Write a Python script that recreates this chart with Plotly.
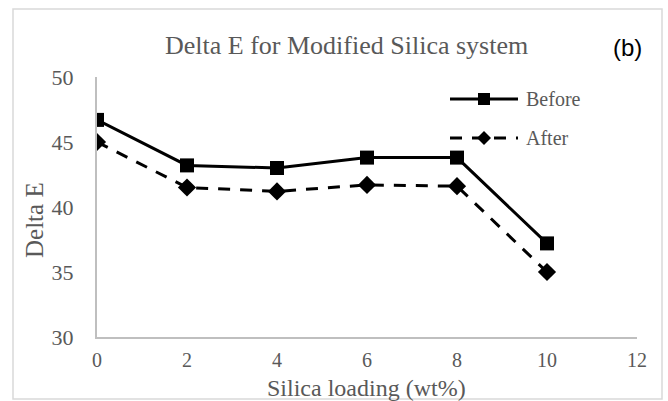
import plotly.graph_objects as go

# Silica loading (wt%) and Delta E readings before / after
loading = [0, 2, 4, 6, 8, 10]
before = [46.7, 43.2, 43.0, 43.8, 43.8, 37.2]
after = [45.0, 41.5, 41.2, 41.7, 41.6, 35.0]
series_names = ["Before", "After"]

GRAY_TXT = "#595959"
AXIS_GRAY = "#BFBFBF"
SERIF = "Liberation Serif, Times New Roman, serif"

fig = go.Figure()
fig.add_trace(go.Scatter(
    x=loading, y=before, name=series_names[0], mode="lines+markers",
    line=dict(color="black", width=3),
    marker=dict(symbol="square", size=14, color="black"),
    showlegend=False,
))
fig.add_trace(go.Scatter(
    x=loading, y=after, name=series_names[1], mode="lines+markers",
    line=dict(color="black", width=3, dash="12px,10px"),
    marker=dict(symbol="diamond", size=14, color="black"),
    showlegend=False,
))

W, H = 668, 401
L, R, T, B = 97, 31, 77, 64
pw, ph = W - L - R, H - T - B


def px(x):
    return (x - L) / pw


def py(y):
    return (H - B - y) / ph


shapes = [
    # outer chart border
    dict(type="rect", xref="paper", yref="paper",
         x0=px(13), x1=px(662), y0=py(399), y1=py(9),
         line=dict(color="#D9D9D9", width=1.5), layer="below"),
    # legend glyph: Before
    dict(type="line", xref="paper", yref="paper",
         x0=px(450), x1=px(518), y0=py(99), y1=py(99),
         line=dict(color="black", width=3)),
    dict(type="rect", xref="paper", yref="paper",
         x0=px(484 - 6), x1=px(484 + 6), y0=py(99 + 6), y1=py(99 - 6),
         line=dict(width=0), fillcolor="black"),
    # legend glyph: After
    dict(type="line", xref="paper", yref="paper",
         x0=px(450), x1=px(518), y0=py(138), y1=py(138),
         line=dict(color="black", width=3, dash="12px,10px")),
    dict(type="path", xref="paper", yref="paper",
         path=(f"M {px(484 - 7)} {py(138)} L {px(484)} {py(138 - 7)} "
               f"L {px(484 + 7)} {py(138)} L {px(484)} {py(138 + 7)} Z"),
         line=dict(width=0), fillcolor="black"),
]

annotations = [
    dict(text="Delta E for Modified Silica system", xref="paper", yref="paper",
         x=px(346), y=py(45), showarrow=False, xanchor="center", yanchor="middle",
         font=dict(family=SERIF, size=26, color=GRAY_TXT)),
    dict(text="(b)", xref="paper", yref="paper",
         x=px(627), y=py(48), showarrow=False, xanchor="center", yanchor="middle",
         font=dict(family="Liberation Sans, Arial, sans-serif", size=24, color="black")),
    dict(text="Before", xref="paper", yref="paper",
         x=px(524), y=py(99), showarrow=False, xanchor="left", yanchor="middle",
         font=dict(family=SERIF, size=20, color=GRAY_TXT)),
    dict(text="After", xref="paper", yref="paper",
         x=px(524), y=py(138), showarrow=False, xanchor="left", yanchor="middle",
         font=dict(family=SERIF, size=20, color=GRAY_TXT)),
    # axis titles
    dict(text="Silica loading (wt%)", xref="paper", yref="paper",
         x=px(366), y=py(388), showarrow=False, xanchor="center", yanchor="middle",
         font=dict(family=SERIF, size=24, color=GRAY_TXT)),
    dict(text="Delta E", xref="paper", yref="paper", textangle=-90,
         x=px(34), y=py(220), showarrow=False, xanchor="center", yanchor="middle",
         font=dict(family=SERIF, size=25, color=GRAY_TXT)),
]

fig.update_layout(
    width=W, height=H,
    margin=dict(l=L, r=R, t=T, b=B, pad=0),
    paper_bgcolor="white", plot_bgcolor="white",
    shapes=shapes, annotations=annotations,
    showlegend=False,
    xaxis=dict(
        range=[0, 12], tickvals=[0, 2, 4, 6, 8, 10, 12],
        showgrid=False, zeroline=False, showline=True,
        linecolor=AXIS_GRAY, linewidth=2, ticks="",
        ticklabelstandoff=4,
        tickfont=dict(family=SERIF, size=20, color=GRAY_TXT),
    ),
    yaxis=dict(
        range=[30, 50], tickvals=[30, 35, 40, 45, 50],
        showgrid=False, zeroline=False, showline=True,
        linecolor=AXIS_GRAY, linewidth=2, ticks="",
        ticklabelstandoff=17,
        tickfont=dict(family=SERIF, size=22, color=GRAY_TXT),
    ),
)

fig.write_html("out.html")
